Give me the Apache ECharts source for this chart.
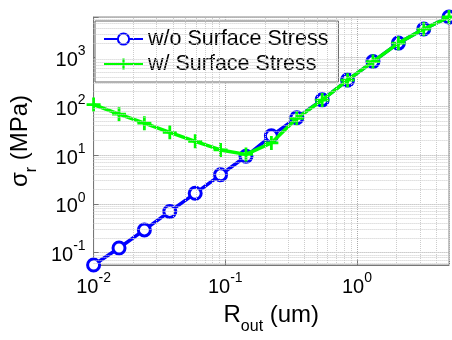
<!DOCTYPE html>
<html>
<head>
<meta charset="utf-8">
<script src="https://cdn.jsdelivr.net/npm/echarts@6/dist/echarts.min.js"></script>
<style>
  html, body { margin: 0; padding: 0; background: #fff; }
  #chart { width: 452px; height: 340px; }
</style>
</head>
<body>
<div id="chart"></div>
<script>
// R_out (um)
const rOut = [0.01, 0.0156, 0.0243, 0.0379, 0.0591, 0.0921, 0.1436, 0.2239,
  0.3491, 0.5443, 0.8485, 1.323, 2.063, 3.216, 5.0];
// sigma_r (MPa) without surface stress
const noSurface = [0.0556, 0.124, 0.291, 0.697, 1.64, 3.93, 9.43, 24.7,
  58.2, 135, 343, 824, 1968, 3822, 6750];
// sigma_r (MPa) with surface stress
const withSurface = [108, 68.8, 45.0, 29.2, 19.1, 12.7, 10.3, 17.7,
  56.4, 134, 342, 822, 1965, 3820, 6750];

const font = 'Liberation Sans, Arial, Helvetica, sans-serif';

// minor log grid lines 2..9 x 10^n
function minorLines(lo, hi, key) {
  const out = [];
  for (let n = lo; n <= hi; n++) {
    for (let k = 2; k <= 9; k++) {
      out.push({ [key]: k * Math.pow(10, n) });
    }
  }
  return out;
}

function powLabel(v) {
  const e = Math.log10(v);
  const r = Math.round(e);
  if (Math.abs(e - r) > 1e-6) return '';
  return '{b|10}{s|' + r + '}';
}

const tickRich = {
  b: { fontSize: 20, fontFamily: font, color: '#000', lineHeight: 26, verticalAlign: 'bottom' },
  s: { fontSize: 14, fontFamily: font, color: '#000', lineHeight: 26, verticalAlign: 'top' }
};

const titleRich = {
  a: { fontSize: 24, fontFamily: font, color: '#000', lineHeight: 32, verticalAlign: 'top' },
  s: { fontSize: 16, fontFamily: font, color: '#000', lineHeight: 32, verticalAlign: 'bottom' }
};

const plusPath = 'path://M4,0h2v4h4v2h-4v4h-2v-4h-4v-2h4z';

const chart = echarts.init(document.getElementById('chart'));
chart.setOption({
  animation: false,
  grid: {
    left: 90, right: 3, top: 17, bottom: 63,
    show: true, borderColor: '#888', borderWidth: 1
  },
  legend: {
    orient: 'vertical',
    left: 95, top: 21,
    padding: [7, 10, 7, 8],
    itemGap: 3,
    itemWidth: 39, itemHeight: 14,
    borderColor: '#666', borderWidth: 1,
    backgroundColor: '#fff',
    data: ['w/o Surface Stress', 'w/ Surface Stress'],
    textStyle: { fontSize: 21.5, fontFamily: font, color: '#000', lineHeight: 22 }
  },
  xAxis: {
    type: 'log',
    logBase: 10,
    min: 0.01, max: 5.0,
    name: '{a|R}{s|out}{a| (um)}',
    nameLocation: 'middle',
    nameGap: 38,
    nameTextStyle: { rich: titleRich },
    axisLine: { lineStyle: { color: '#777' } },
    axisTick: { inside: true, length: 5, lineStyle: { color: '#777' } },
    axisLabel: { formatter: powLabel, rich: tickRich, margin: 6 },
    splitLine: { show: true, lineStyle: { color: '#aaa', type: 'dotted' } }
  },
  yAxis: {
    type: 'log',
    logBase: 10,
    min: 0.0556, max: 6750,
    name: '{a|σ}{s|r}{a| (MPa)}',
    nameLocation: 'middle',
    nameGap: 53,
    nameTextStyle: { rich: titleRich },
    axisLine: { lineStyle: { color: '#777' } },
    axisTick: { inside: true, length: 5, lineStyle: { color: '#777' } },
    axisLabel: { formatter: powLabel, rich: tickRich, margin: 8 },
    splitLine: { show: true, lineStyle: { color: '#aaa', type: 'dotted' } }
  },
  series: [
    {
      name: 'minor grid',
      type: 'line',
      data: [],
      z: 1,
      silent: true,
      markLine: {
        silent: true,
        symbol: 'none',
        label: { show: false },
        lineStyle: { color: '#ccc', type: 'dotted', width: 1 },
        data: minorLines(-2, 0, 'xAxis').concat(minorLines(-2, 3, 'yAxis'))
      }
    },
    {
      name: 'w/o Surface Stress',
      type: 'line',
      z: 2,
      data: rOut.map((x, i) => [x, noSurface[i]]),
      symbol: 'circle',
      symbolSize: 12,
      lineStyle: { color: '#0000ff', width: 3.5 },
      itemStyle: { color: '#fff', borderColor: '#0000ff', borderWidth: 3 }
    },
    {
      name: 'w/ Surface Stress',
      type: 'line',
      z: 3,
      data: rOut.map((x, i) => [x, withSurface[i]]),
      symbol: plusPath,
      symbolSize: 14,
      lineStyle: { color: '#00ff00', width: 3.5 },
      itemStyle: { color: '#00ff00' }
    }
  ]
});
</script>
</body>
</html>
